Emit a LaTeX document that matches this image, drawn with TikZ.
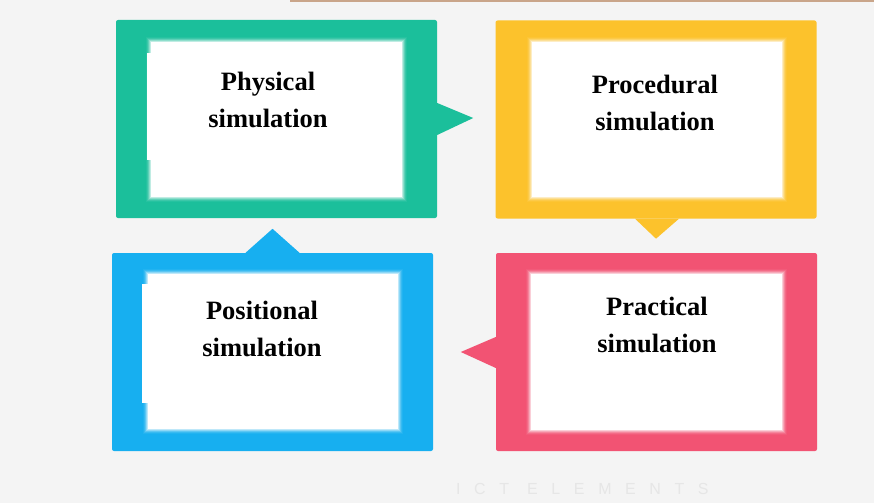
\documentclass[tikz,border=0pt]{standalone}
\usepackage{fontspec}
\setmainfont{Liberation Serif}
\newfontfamily\tagfont[LetterSpace=85]{Liberation Sans}
\usetikzlibrary{calc}

\definecolor{pagebg}{HTML}{F4F4F4}
\definecolor{rulecol}{HTML}{C9A58A}
\definecolor{tealc}{HTML}{1BBF9B}
\definecolor{amberc}{HTML}{FCC22C}
\definecolor{skyc}{HTML}{17AFF0}
\definecolor{rosec}{HTML}{F25373}
\definecolor{tagcol}{HTML}{E6E6E6}

\tikzset{
  frame/.style={fill=#1, draw=none, inner sep=0pt, rounded corners=2pt,
                minimum width=321pt, minimum height=198pt},
  panel/.style={fill=white, draw=none, inner sep=0pt,
                minimum width=251pt, minimum height=155pt},
  label/.style={align=center, anchor=base, inner sep=0pt,
                font=\fontsize{26.5}{37}\selectfont\bfseries},
  tail/.style={fill=#1, draw=none},
  glow/.style={fill=white, opacity=#1, draw=none}
}

\begin{document}
\begin{tikzpicture}[x=1pt, y=-1pt]
  % canvas
  \useasboundingbox (0,0) rectangle (874,503);
  \fill[pagebg] (0,0) rectangle (874,503);
  \coordinate (ruleL) at (290,1);
  \coordinate (ruleR) at (874,1);
  \draw[rulecol, line width=2pt] (ruleL) -- (ruleR);

  % coloured frames
  \node[frame=tealc]  (phys) at (276.5,119)   {};
  \node[frame=amberc] (proc) at (656,119.5)   {};
  \node[frame=skyc]   (posi) at (272.5,352)   {};
  \node[frame=rosec]  (prac) at (656.5,352)   {};

  % speech-bubble tails
  \fill[tail=tealc]  ($(phys.east)+(0,-16)$) -- ($(phys.east)+(36,-1)$) -- ($(phys.east)+(0,16)$) -- cycle;
  \fill[tail=amberc] ($(proc.south)+(-21,0)$) -- ($(proc.south)+(0,20)$) -- ($(proc.south)+(23,0)$) -- cycle;
  \fill[tail=skyc]   ($(posi.north)+(-27,0)$) -- ($(posi.north)+(0,-24)$) -- ($(posi.north)+(27,0)$) -- cycle;
  \fill[tail=rosec]  ($(prac.west)+(0,-15)$) -- ($(prac.west)+(-35,0)$) -- ($(prac.west)+(0,16)$) -- cycle;

  % white panels
  \node[panel] (physin) at (276.5,119.5) {};
  \node[panel, minimum width=250pt] (procin) at (657,119.5) {};
  \node[panel, minimum width=250pt] (posiin) at (273,351.5) {};
  \node[panel, minimum height=156pt] (pracin) at (656.5,352) {};

  % soft glow round the panels
  \foreach \p in {physin,procin,posiin,pracin}{
    \foreach \k/\o in {1/0.45,2/0.3,3/0.18,4/0.1,5/0.05}{
      \fill[glow=\o] ($(\p.south west)+(-\k,\k)$) rectangle ($(\p.north east)+(\k,-\k)$);
    }
  }

  % text patches overlapping the left borders
  \fill[white] (147,53) rectangle (200,160);
  \fill[white] (142,284) rectangle (200,403);

  % captions (anchored on the baseline of the second line)
  \node[label] (physt) at (268,127) {Physical\\simulation};
  \node[label] (proct) at (655,130) {Procedural\\simulation};
  \node[label] (posit) at (262,356) {Positional\\simulation};
  \node[label] (pract) at (657,352) {Practical\\simulation};

  % faint footer
  \node[tagcol, anchor=base west, inner sep=0pt, font=\tagfont\fontsize{16}{18}\selectfont] (foot) at (456,494) {ICT ELEMENTS};
\end{tikzpicture}
\end{document}
